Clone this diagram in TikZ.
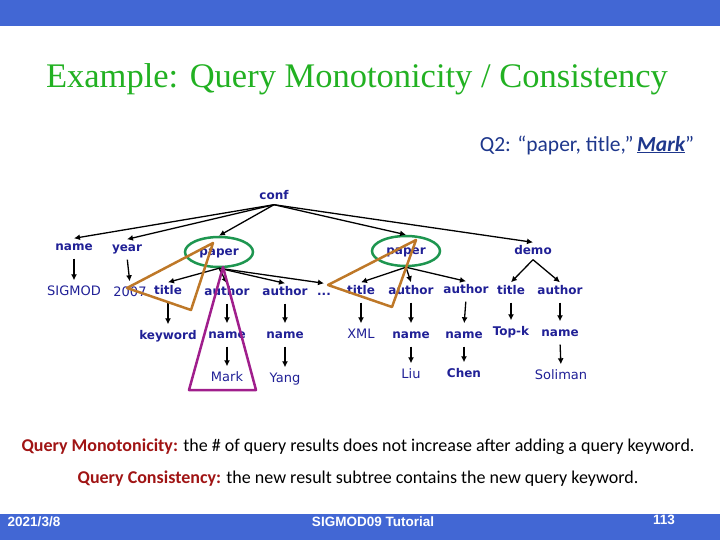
\documentclass[tikz,border=0pt]{standalone}
\usepackage{fontspec}
\setmainfont{Liberation Serif}
\newfontfamily\treefont{DejaVu Sans}
\newfontfamily\calfont{Carlito}
\newfontfamily\footfont{Liberation Sans}
\usetikzlibrary{shapes.geometric,arrows.meta}
\definecolor{barblue}{RGB}{66,103,212}
\definecolor{titlegreen}{RGB}{34,177,34}
\definecolor{treeblue}{RGB}{32,32,150}
\definecolor{ringgreen}{RGB}{30,150,80}
\definecolor{hitorange}{RGB}{190,120,40}
\definecolor{hitmagenta}{RGB}{160,30,140}
\definecolor{termred}{RGB}{160,20,20}
\definecolor{queryblue}{RGB}{30,55,140}

\begin{document}
\begin{tikzpicture}[x=1pt,y=-1pt,
  tag/.style={font=\treefont\bfseries\fontsize{12}{14}\selectfont,text=treeblue,inner sep=3pt,text height=9pt,text depth=2pt},
  val/.style={tag,font=\treefont\fontsize{13}{15}\selectfont},
  edge/.style={line width=1.3pt,-{Latex[length=6pt,width=6pt]}},
  down/.style={edge,shorten <=3pt,shorten >=3pt},
  ring/.style={ellipse,draw=ringgreen,line width=2.5pt,minimum width=68pt,minimum height=30pt},
  note/.style={font=\calfont\fontsize{18}{22}\selectfont},
  foot/.style={font=\footfont\bfseries\fontsize{13.5}{16}\selectfont,text=white}]
  \useasboundingbox (0,0) rectangle (720,540);
  \fill[barblue] (0,0) rectangle (720,26);
  \fill[barblue] (0,514) rectangle (720,540);
  \node[font=\fontsize{34.5}{40}\selectfont,text=titlegreen] (title) at (357,79) {Example: Query Monotonicity / Consistency};
  \node[font=\calfont\fontsize{21.5}{26}\selectfont,text=queryblue] (query) at (587,145) {Q2: “paper, title,”\,\textbf{\textit{\underline{Mark}}}”};

  \node[tag] (conf) at (274,196) {conf};
  \node[tag] (name) at (74,247) {name};
  \node[tag] (year) at (127,248) {year};
  \node[tag,ring] (paperA) at (219,252) {paper};
  \node[tag,ring] (paperB) at (406,251) {paper};
  \node[tag] (demo) at (533,251) {demo};

  \node[val] (sigmod) at (74,292) {SIGMOD};
  \node[val] (yr) at (130,293) {2007};
  \node[tag] (titleA) at (168,291) {title};
  \node[tag] (authA) at (227,292) {author};
  \node[tag] (authB) at (285,292) {author};
  \node[tag] (dots) at (324,292) {...};
  \node[tag] (titleB) at (361,291) {title};
  \node[tag] (authC) at (411,291) {author};
  \node[tag] (authD) at (466,290) {author};
  \node[tag] (titleC) at (511,291) {title};
  \node[tag] (authE) at (560,291) {author};

  \node[tag] (kw) at (168,336) {keyword};
  \node[tag] (nameA) at (227,335) {name};
  \node[tag] (nameB) at (285,335) {name};
  \node[val] (xml) at (361,335) {XML};
  \node[tag] (nameC) at (411,335) {name};
  \node[tag] (nameD) at (464,335) {name};
  \node[tag] (topk) at (511,332) {Top-k};
  \node[tag] (nameE) at (560,333) {name};

  \node[val] (mark) at (227,378) {Mark};
  \node[val] (yang) at (285,379) {Yang};
  \node[val] (liu) at (411,375) {Liu};
  \node[tag] (chen) at (464,374) {Chen};
  \node[val] (soliman) at (561,376) {Soliman};

  \foreach \a/\b in {conf/name,conf/year,conf/paperA,conf/paperB,conf/demo,
    paperA/titleA,paperA/authA,paperA/authB,paperA/dots,
    paperB/titleB,paperB/authC,paperB/authD,demo/titleC,demo/authE}
    \draw[edge] (\a.south) -- (\b.north);
  \foreach \a/\b in {name/sigmod,year/yr,titleA/kw,authA/nameA,authB/nameB,titleB/xml,
    authC/nameC,authD/nameD,titleC/topk,authE/nameE,
    nameA/mark,nameB/yang,nameC/liu,nameD/chen,nameE/soliman}
    \draw[down] (\a.south) -- (\b.north);

  \draw[hitorange,line width=2.5pt,line join=round] (213,243) -- (127,288) -- (191,310) -- cycle;
  \draw[hitorange,line width=2.5pt,line join=round] (416,240) -- (328,285) -- (392,307) -- cycle;
  \draw[hitmagenta,line width=2.5pt,line join=round] (223,267) -- (189,390) -- (256,390) -- cycle;

  \node[note] (mono) at (358,447) {\textcolor{termred}{\textbf{Query Monotonicity:}} the \# of query results does not increase after adding a query keyword.};
  \node[note] (cons) at (358,479) {\textcolor{termred}{\textbf{Query Consistency:}} the new result subtree contains the new query keyword.};

  \node[foot] (date) at (34,522) {2021/3/8};
  \node[foot] (talk) at (373,522) {SIGMOD09 Tutorial};
  \node[foot] (page) at (664,520) {113};
\end{tikzpicture}
\end{document}
